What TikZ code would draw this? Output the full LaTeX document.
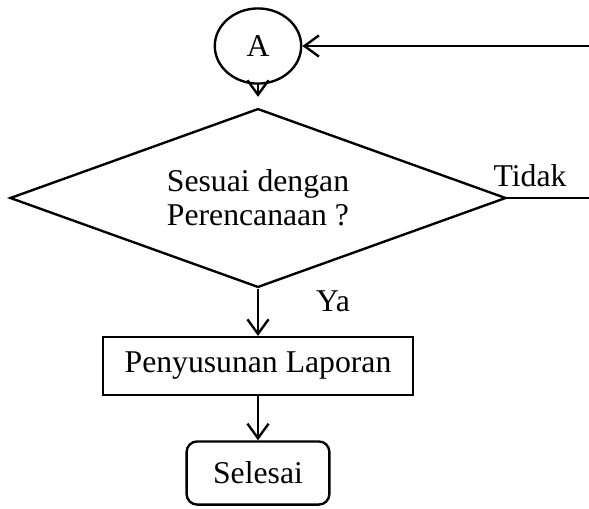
\documentclass[tikz,border=0pt]{standalone}
\usepackage{fontspec}
\setmainfont{Liberation Serif}
\usetikzlibrary{positioning,shapes.geometric,arrows.meta}

\tikzset{
  garis/.style={line width=0.9pt},
  panah/.style={garis,-{Straight Barb[length=5.5pt,width=8pt,line width=0.9pt]}},
  teks/.style={font=\fontsize{12}{13}\selectfont}
}

\begin{document}
\begin{tikzpicture}[x=0.0133cm,y=-0.0133cm]
  \useasboundingbox (0,0) rectangle (589,508);
  \node[shape=ellipse,draw=black,garis,teks,inner sep=0pt,minimum width=1.15cm,minimum height=1.0cm] (A) at (258,46) {A};
  \node[shape=diamond,draw=black,garis,teks,inner sep=0pt,aspect=2.77,minimum width=6.6cm,minimum height=2.38cm,align=center] (cek) at (258,198) {Sesuai dengan\\Perencanaan ?};
  \node[shape=rectangle,draw=black,garis,teks,minimum width=4.12cm,minimum height=0.77cm] (lapor) at (258,366) {Penyusunan Laporan};
  \node[shape=rectangle,rounded corners=4pt,draw=black,garis,teks,minimum width=1.9cm,minimum height=0.84cm] (selesai) at (258,473) {Selesai};
  \node[teks,anchor=base] (tidak) at (530,186) {Tidak};
  \node[teks,anchor=base] (ya) at (333,311) {Ya};
  \coordinate (kanan) at (589,198);
  \coordinate (atas) at (589,46);
  \path [panah,shorten >=4pt](A) edge node[left] {} (cek);
  \path [garis](cek) edge node[left] {} (kanan);
  \path [panah](atas) edge node[left] {} (A);
  \path [panah](cek) edge node[left] {} (lapor);
  \path [panah](lapor) edge node[left] {} (selesai);
  \end{tikzpicture}
\end{document}
